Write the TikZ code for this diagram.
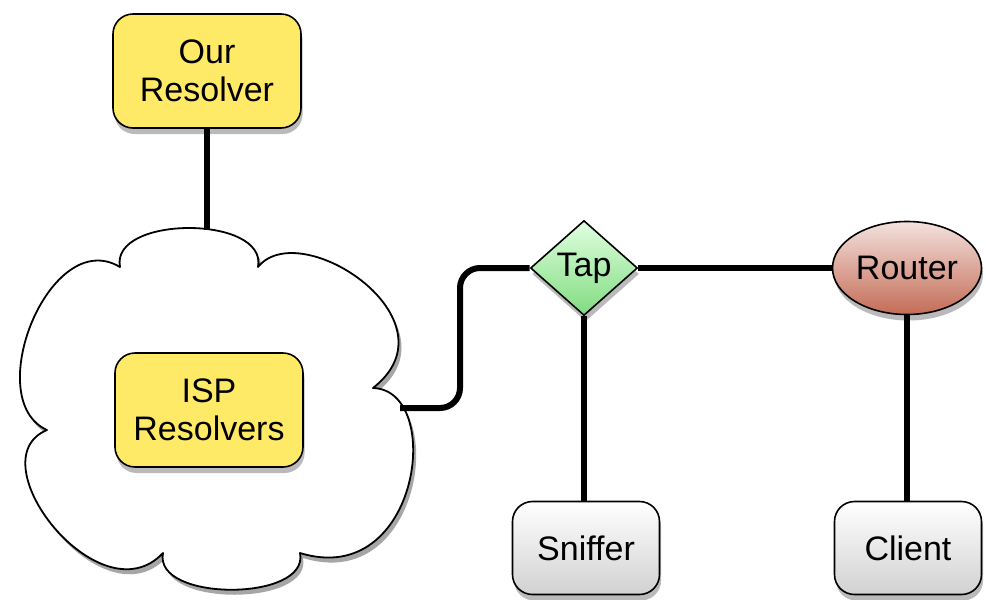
\documentclass[tikz,border=0pt]{standalone}
\usepackage{fontspec}
\setmainfont{Liberation Sans}
\usetikzlibrary{shapes.geometric,shadows}

\definecolor{resyellow}{RGB}{255,234,104}
\definecolor{tapgreen}{RGB}{128,220,128}
\definecolor{routerred}{RGB}{196,108,86}

% outline of the ISP cloud, in pixel-like units
\newcommand{\ispcloud}{(120,267)
  .. controls (110,215) and (268,215) .. (258,267)
  .. controls (300,215) and (460,320) .. (373,388)
  .. controls (445,390) and (420,590) .. (300,553)
  .. controls (310,602) and (153,602) .. (163,553)
  .. controls (100,620) and (-25,460) .. (47,430)
  .. controls (-20,400) and (50,225) .. (120,267) -- cycle}

\tikzset{
  boxshadow/.style={drop shadow={shadow xshift=0.8pt,shadow yshift=-3pt,opacity=0.45,fill=black!60}},
  resolver/.style={draw,line width=0.8pt,rounded corners=10pt,fill=resyellow,
    minimum width=94pt,minimum height=57pt,align=center,boxshadow},
  host/.style={draw,line width=0.8pt,rounded corners=10pt,top color=white,bottom color=black!18,
    minimum width=73.5pt,minimum height=46.5pt,boxshadow},
  tapnode/.style={diamond,draw,line width=0.8pt,inner sep=0pt,top color=green!12,bottom color=tapgreen,
    minimum width=53.5pt,minimum height=47.5pt,boxshadow},
  routernode/.style={ellipse,draw,line width=0.8pt,inner sep=0pt,top color=routerred!20,bottom color=routerred,
    minimum width=74.5pt,minimum height=46.5pt,boxshadow},
  link/.style={line width=3pt}
}

\begin{document}
\begin{tikzpicture}[x=0.5pt,y=-0.5pt,font=\fontsize{17}{19}\selectfont,line join=round]
\useasboundingbox (0,0) rectangle (986,600);

% the cloud, with its shadow
\fill[black!35,shift={(3,5)}] \ispcloud;
\draw[fill=white,line width=0.9pt] \ispcloud;
\coordinate (cloud top) at (207,230);
\coordinate (cloud east) at (400,408);

\node[resolver] (our) at (207,71) {Our\\Resolver};
\node[resolver] (isp) at (209,410) {ISP\\Resolvers};
\node[tapnode] (tap) at (584,268) {Tap};
\node[routernode] (router) at (907,268) {Router};
\node[host] (sniffer) at (586,548) {Sniffer};
\node[host] (client) at (908,548) {Client};

\draw[link] (our) -- (cloud top);
\draw[link,rounded corners=10pt] (cloud east) -- (460,408) |- (tap.west);
\draw[link] (tap) -- (router);
\draw[link] (tap.south) -- (sniffer.north -| tap.south);
\draw[link] (router.south) -- (client.north -| router.south);
\end{tikzpicture}
\end{document}
